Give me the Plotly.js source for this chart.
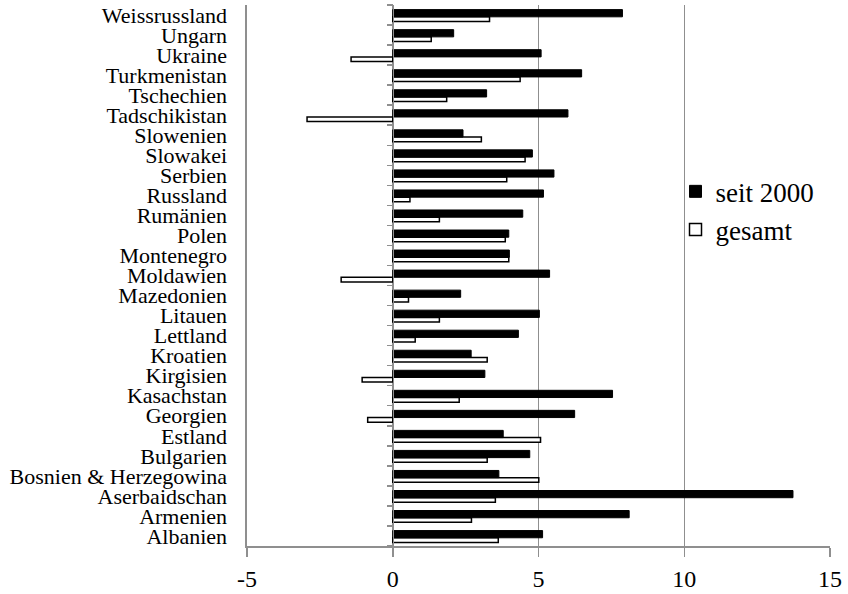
<!DOCTYPE html>
<html>
<head>
<meta charset="utf-8">
<script src="https://cdn.plot.ly/plotly-3.0.1.min.js"></script>
<style>
  html, body { margin: 0; padding: 0; background: #fff; }
  #chart { width: 848px; height: 594px; }
</style>
</head>
<body>
<div id="chart"></div>
<script>
// Countries, listed from bottom row to top row
const countries = [
  "Albanien", "Armenien", "Aserbaidschan", "Bosnien & Herzegowina", "Bulgarien",
  "Estland", "Georgien", "Kasachstan", "Kirgisien", "Kroatien", "Lettland",
  "Litauen", "Mazedonien", "Moldawien", "Montenegro", "Polen", "Rumänien",
  "Russland", "Serbien", "Slowakei", "Slowenien", "Tadschikistan", "Tschechien",
  "Turkmenistan", "Ukraine", "Ungarn", "Weissrussland"
];

// Growth since 2000
const seit2000 = [
  5.14, 8.11, 13.73, 3.64, 4.70,
  3.79, 6.24, 7.54, 3.16, 2.69, 4.31,
  5.03, 2.33, 5.38, 4.00, 3.98, 4.46,
  5.17, 5.53, 4.79, 2.41, 6.01, 3.22,
  6.48, 5.09, 2.09, 7.88
];

// Overall growth
const gesamt = [
  3.62, 2.70, 3.52, 5.01, 3.24,
  5.07, -0.86, 2.28, -1.05, 3.24, 0.77,
  1.60, 0.54, -1.77, 3.98, 3.86, 1.60,
  0.59, 3.91, 4.54, 3.04, -2.94, 1.85,
  4.37, -1.43, 1.32, 3.32
];

const xTicks = [-5, 0, 5, 10, 15];

const serif = "Liberation Serif";
const grey = "#8f8f8f";
const catRange = [-0.5, countries.length - 0.5];

const traces = [
  {
    type: "bar",
    orientation: "h",
    name: "seit 2000",
    legendrank: 1,
    x: seit2000,
    y: countries,
    xaxis: "x",
    yaxis: "y2",
    offset: -0.09,
    width: 0.36,
    marker: { color: "#000000", line: { color: "#000000", width: 1 } },
    hoverinfo: "x+y+name"
  },
  {
    type: "bar",
    orientation: "h",
    name: "gesamt",
    legendrank: 2,
    x: gesamt,
    y: countries,
    xaxis: "x",
    yaxis: "y",
    offset: -0.32,
    width: 0.23,
    marker: { color: "#ffffff", line: { color: "#000000", width: 1.5 } },
    hoverinfo: "x+y+name"
  }
];

const layout = {
  width: 848,
  height: 594,
  margin: { l: 247, r: 18, t: 5, b: 48 },
  paper_bgcolor: "#ffffff",
  plot_bgcolor: "#ffffff",
  font: { family: serif, size: 22, color: "#000000" },
  showlegend: true,
  legend: {
    x: 0.735, xanchor: "left",
    y: 0.70, yanchor: "top",
    traceorder: "normal",
    itemwidth: 30,
    bgcolor: "rgba(0,0,0,0)",
    borderwidth: 0,
    font: { family: serif, size: 27, color: "#000000" }
  },
  xaxis: {
    range: [-5, 15],
    tickmode: "array",
    tickvals: xTicks,
    ticktext: xTicks.map(String),
    showgrid: true,
    gridcolor: grey,
    gridwidth: 1,
    zeroline: false,
    showline: true,
    linecolor: grey,
    linewidth: 1.5,
    ticks: "outside",
    ticklen: 9,
    tickcolor: grey,
    tickwidth: 1.5,
    ticklabelstandoff: 2,
    tickfont: { family: serif, size: 24, color: "#000000" },
    fixedrange: true
  },
  yaxis: {
    type: "category",
    categoryorder: "array",
    categoryarray: countries,
    tickmode: "array",
    tickvals: countries,
    ticktext: countries,
    range: catRange,
    showgrid: false,
    zeroline: false,
    showline: true,
    linecolor: grey,
    linewidth: 2.5,
    ticks: "",
    ticklabelstandoff: 13,
    tickfont: { family: serif, size: 22, color: "#000000" },
    fixedrange: true
  },
  yaxis2: {
    type: "category",
    categoryorder: "array",
    categoryarray: countries,
    range: catRange,
    overlaying: "y",
    anchor: "free",
    side: "left",
    position: 0.25,
    showgrid: false,
    zeroline: false,
    showline: true,
    linecolor: grey,
    linewidth: 1.5,
    ticks: "outside",
    tickson: "boundaries",
    ticklen: 6,
    tickcolor: grey,
    tickwidth: 1.5,
    showticklabels: false,
    fixedrange: true
  }
};

Plotly.newPlot("chart", traces, layout, { displayModeBar: false, staticPlot: true });
</script>
</body>
</html>
